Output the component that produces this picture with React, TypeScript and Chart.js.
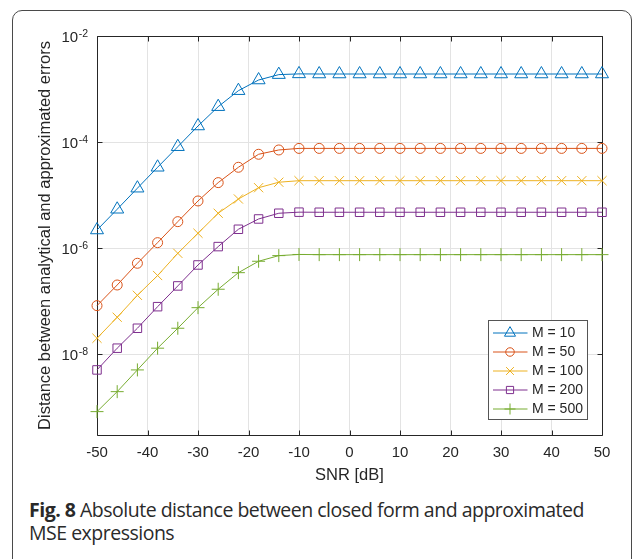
import React, { useEffect, useRef } from 'react';
import { Chart, registerables } from 'chart.js';
import { drawPoint } from 'chart.js/helpers';

Chart.register(...registerables);

// SNR values [dB]
const snr = [-50, -46, -42, -38, -34, -30, -26, -22, -18, -14, -10, -6, -2, 2, 6, 10, 14, 18, 22, 26, 30, 34, 38, 42, 46, 50];

const m10 = [2.2e-6, 5.41e-6, 1.35e-5, 3.35e-5, 8.18e-5, 2.01e-4, 4.65e-4, 9.31e-4, 1.48e-3, 1.87e-3, 1.93e-3, 1.92e-3, 1.92e-3, 1.92e-3, 1.92e-3, 1.92e-3, 1.92e-3, 1.92e-3, 1.92e-3, 1.92e-3, 1.92e-3, 1.92e-3, 1.92e-3, 1.92e-3, 1.92e-3, 1.92e-3];
const m50 = [8.24e-8, 2.02e-7, 5.19e-7, 1.27e-6, 3.16e-6, 7.76e-6, 1.72e-5, 3.35e-5, 5.89e-5, 7.1e-5, 7.6e-5, 7.6e-5, 7.6e-5, 7.6e-5, 7.6e-5, 7.6e-5, 7.6e-5, 7.6e-5, 7.6e-5, 7.6e-5, 7.6e-5, 7.6e-5, 7.6e-5, 7.6e-5, 7.6e-5, 7.6e-5];
const m100 = [2.0e-8, 4.98e-8, 1.29e-7, 3.05e-7, 8.0e-7, 1.91e-6, 4.55e-6, 8.45e-6, 1.38e-5, 1.75e-5, 1.87e-5, 1.87e-5, 1.87e-5, 1.87e-5, 1.87e-5, 1.87e-5, 1.87e-5, 1.87e-5, 1.87e-5, 1.87e-5, 1.87e-5, 1.87e-5, 1.87e-5, 1.87e-5, 1.87e-5, 1.87e-5];
const m200 = [5.06e-9, 1.3e-8, 3.09e-8, 7.88e-8, 1.94e-7, 4.82e-7, 1.07e-6, 2.27e-6, 3.55e-6, 4.55e-6, 4.77e-6, 4.75e-6, 4.75e-6, 4.75e-6, 4.75e-6, 4.75e-6, 4.75e-6, 4.75e-6, 4.75e-6, 4.75e-6, 4.75e-6, 4.75e-6, 4.75e-6, 4.75e-6, 4.75e-6, 4.75e-6];
const m500 = [8.28e-10, 1.97e-9, 5.06e-9, 1.3e-8, 3.09e-8, 7.55e-8, 1.68e-7, 3.45e-7, 5.66e-7, 7.23e-7, 7.6e-7, 7.55e-7, 7.55e-7, 7.55e-7, 7.55e-7, 7.55e-7, 7.55e-7, 7.55e-7, 7.55e-7, 7.55e-7, 7.55e-7, 7.55e-7, 7.55e-7, 7.55e-7, 7.55e-7, 7.55e-7];

const seriesLabels = ['M = 10', 'M = 50', 'M = 100', 'M = 200', 'M = 500'];
const yTickValues = [1e-8, 1e-6, 1e-4, 1e-2];
const yMin = 3.0e-10;
const yMax = 1e-2;
const xMin = -50;
const xMax = 50;

const colors = ['#0072BD', '#D95319', '#EDB120', '#7E2F8E', '#77AC30'];
const pointStyles = ['triangle', 'circle', 'crossRot', 'rect', 'cross'];
const pointRadii = [7.5, 5, 6.5, 6, 6.5];

const AXIS_FONT = '"Liberation Sans", Arial, Helvetica, sans-serif';
const TEXT_COLOR = '#262626';

const matlabFrame = {
  id: 'matlabFrame',
  beforeDatasetsDraw(chart: any) {
    const { ctx, chartArea: ca, scales } = chart;
    ctx.save();
    ctx.strokeStyle = TEXT_COLOR;
    ctx.lineWidth = 1;
    const L = Math.round(ca.left) + 0.5;
    const R = Math.round(ca.right) + 0.5;
    const T = Math.round(ca.top) + 0.5;
    const B = Math.round(ca.bottom) + 0.5;
    ctx.beginPath();
    ctx.rect(L, T, R - L, B - T);
    ctx.stroke();
    const tl = 5;
    ctx.beginPath();
    scales.x.ticks.forEach((t: any) => {
      const px = Math.round(scales.x.getPixelForValue(t.value)) + 0.5;
      ctx.moveTo(px, B); ctx.lineTo(px, B - tl);
      ctx.moveTo(px, T); ctx.lineTo(px, T + tl);
    });
    scales.y.ticks.forEach((t: any) => {
      const py = Math.round(scales.y.getPixelForValue(t.value)) + 0.5;
      ctx.moveTo(L, py); ctx.lineTo(L + tl, py);
      ctx.moveTo(R, py); ctx.lineTo(R - tl, py);
    });
    ctx.stroke();
    // y tick labels with superscript exponent
    ctx.fillStyle = TEXT_COLOR;
    ctx.textBaseline = 'alphabetic';
    ctx.textAlign = 'left';
    scales.y.ticks.forEach((t: any) => {
      const py = scales.y.getPixelForValue(t.value);
      const exp = String(Math.round(Math.log10(t.value)));
      ctx.font = `15px ${AXIS_FONT}`;
      const mainW = ctx.measureText('10').width;
      ctx.font = `10.5px ${AXIS_FONT}`;
      const supW = ctx.measureText(exp).width;
      const supX = ca.left - 9 - supW;
      const mainX = supX - 0.5 - mainW;
      ctx.fillText(exp, supX, py + 0.5);
      ctx.font = `15px ${AXIS_FONT}`;
      ctx.fillText('10', mainX, py + 6);
    });
    ctx.restore();
  },
};

const matlabLegend = {
  id: 'matlabLegend',
  afterDraw(chart: any) {
    const { ctx, chartArea: ca } = chart;
    const w = 99;
    const h = 99;
    const x0 = Math.round(ca.right - 15 - w) + 0.5;
    const y0 = Math.round(ca.bottom - 16 - h) + 0.5;
    ctx.save();
    ctx.fillStyle = '#ffffff';
    ctx.fillRect(x0, y0, w, h);
    ctx.strokeStyle = '#555555';
    ctx.lineWidth = 1;
    ctx.strokeRect(x0, y0, w, h);
    chart.data.datasets.forEach((ds: any, i: number) => {
      const y = y0 + 12.5 + i * 19;
      ctx.strokeStyle = ds.borderColor;
      ctx.lineWidth = 1;
      ctx.beginPath();
      ctx.moveTo(x0 + 4.5, y);
      ctx.lineTo(x0 + 39, y);
      ctx.stroke();
      ctx.fillStyle = 'rgba(0,0,0,0)';
      drawPoint(ctx, { pointStyle: ds.pointStyle, radius: ds.pointRadius * 0.85, rotation: 0, borderWidth: 1 }, x0 + 21.5, y);
      ctx.fillStyle = TEXT_COLOR;
      ctx.font = `14px ${AXIS_FONT}`;
      ctx.textBaseline = 'middle';
      ctx.textAlign = 'left';
      ctx.fillText(ds.label, x0 + 43.5, y + 0.5);
    });
    ctx.restore();
  },
};

export default function App() {
  const canvasRef = useRef<HTMLCanvasElement | null>(null);

  useEffect(() => {
    if (!canvasRef.current) return;
    const series = [m10, m50, m100, m200, m500];
    const datasets = series.map((vals, i) => ({
      label: seriesLabels[i],
      data: snr.map((x, j) => ({ x, y: vals[j] })),
      borderColor: colors[i],
      backgroundColor: 'rgba(0,0,0,0)',
      pointBackgroundColor: 'rgba(0,0,0,0)',
      pointBorderColor: colors[i],
      pointStyle: pointStyles[i],
      pointRadius: pointRadii[i],
      pointBorderWidth: 1,
      borderWidth: 1,
      tension: 0,
      clip: false,
    }));

    const chart = new Chart(canvasRef.current, {
      type: 'line',
      data: { datasets },
      plugins: [matlabFrame, matlabLegend],
      options: {
        animation: false,
        responsive: false,
        devicePixelRatio: 1,
        layout: { padding: { top: 36, right: 33, left: 0, bottom: 0 } },
        plugins: { legend: { display: false }, tooltip: { enabled: false } },
        scales: {
          x: {
            type: 'linear',
            min: xMin,
            max: xMax,
            ticks: { stepSize: 10, padding: 9, color: TEXT_COLOR, font: { family: AXIS_FONT, size: 15 }, maxRotation: 0 },
            grid: { color: '#e3e3e3', drawTicks: false },
            border: { display: false },
            title: { display: true, text: 'SNR [dB]', color: TEXT_COLOR, font: { family: AXIS_FONT, size: 16.5 }, padding: { top: 0, bottom: 9.6 } },
            afterFit: (scale: any) => { scale.height = 60; },
          },
          y: {
            type: 'logarithmic',
            min: yMin,
            max: yMax,
            afterBuildTicks: (scale: any) => { scale.ticks = yTickValues.map((v) => ({ value: v })); },
            ticks: { display: false },
            grid: { color: '#e3e3e3', drawTicks: false },
            border: { display: false },
            title: { display: true, text: 'Distance between analytical and approximated errors', color: TEXT_COLOR, font: { family: AXIS_FONT, size: 16.5 }, padding: { top: 36, bottom: 0 } },
            afterFit: (scale: any) => { scale.width = 97; },
          },
        },
      } as any,
    });
    return () => chart.destroy();
  }, []);

  return (
    <div style={{ position: 'absolute', left: 0, top: 0, width: 635, height: 559, overflow: 'hidden', background: '#fff' }}>
      <div style={{ position: 'absolute', left: 12, top: 10, width: 620, height: 600, border: '1.5px solid #4a4a4a', borderRadius: 10, boxSizing: 'border-box' }} />
      <canvas ref={canvasRef} width={635} height={495} style={{ position: 'absolute', left: 0, top: 0 }} />
      <div style={{ position: 'absolute', left: 29, top: 497.5, fontFamily: '"Open Sans", "Noto Sans", sans-serif', fontSize: 19.5, lineHeight: '23.5px', color: '#2a2a2a', whiteSpace: 'nowrap', letterSpacing: '-0.5px' }}>
        <span style={{ fontWeight: 700 }}>Fig. 8</span> Absolute distance between closed form and approximated
        <br />
        MSE expressions
      </div>
    </div>
  );
}
